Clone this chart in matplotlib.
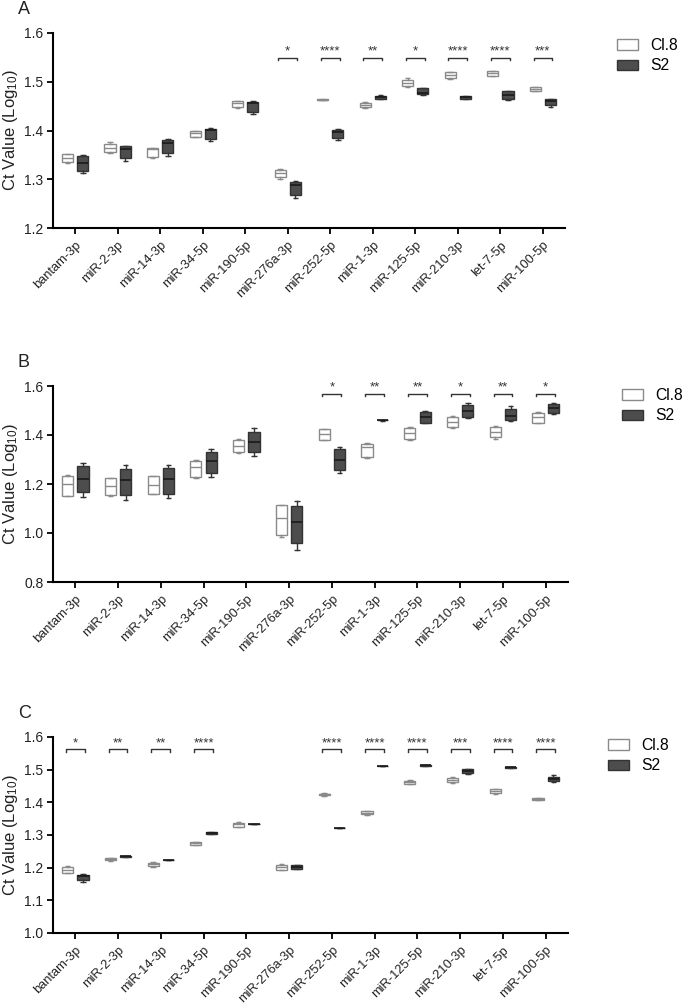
import numpy as np
import matplotlib
matplotlib.use('Agg')
import matplotlib.pyplot as plt
from matplotlib.patches import Patch

plt.rc('font', family='Liberation Sans')
plt.rc('mathtext', default='regular')
plt.rc('axes.spines', right=False, top=False)

mirnas = ['bantam-3p', 'miR-2-3p', 'miR-14-3p', 'miR-34-5p', 'miR-190-5p',
          'miR-276a-3p', 'miR-252-5p', 'miR-1-3p', 'miR-125-5p', 'miR-210-3p',
          'let-7-5p', 'miR-100-5p']

# box stats per miRNA: (whisker low, q1, median, q3, whisker high)
a_cl8 = [(1.333, 1.336, 1.343, 1.351, 1.352), (1.353, 1.356, 1.365, 1.372, 1.377),
         (1.343, 1.346, 1.362, 1.365, 1.365), (1.386, 1.387, 1.394, 1.399, 1.400),
         (1.446, 1.448, 1.456, 1.461, 1.461), (1.301, 1.304, 1.313, 1.319, 1.320),
         (1.462, 1.462, 1.463, 1.464, 1.464), (1.447, 1.448, 1.453, 1.457, 1.458),
         (1.490, 1.492, 1.498, 1.504, 1.507), (1.506, 1.507, 1.513, 1.519, 1.521),
         (1.511, 1.512, 1.517, 1.522, 1.523), (1.481, 1.482, 1.485, 1.489, 1.490)]
a_s2 = [(1.312, 1.317, 1.334, 1.347, 1.349), (1.338, 1.343, 1.363, 1.369, 1.369),
        (1.348, 1.353, 1.375, 1.380, 1.382), (1.378, 1.382, 1.401, 1.404, 1.406),
        (1.433, 1.437, 1.456, 1.459, 1.461), (1.262, 1.267, 1.288, 1.295, 1.296),
        (1.380, 1.384, 1.396, 1.402, 1.404), (1.464, 1.465, 1.468, 1.471, 1.472),
        (1.472, 1.474, 1.476, 1.488, 1.488), (1.464, 1.465, 1.468, 1.471, 1.471),
        (1.463, 1.464, 1.472, 1.481, 1.482), (1.449, 1.452, 1.460, 1.464, 1.465)]
a_sig = ['', '', '', '', '', '*', '****', '**', '*', '****', '****', '***']

b_cl8 = [(1.150, 1.153, 1.201, 1.234, 1.238), (1.152, 1.154, 1.193, 1.224, 1.226),
         (1.158, 1.161, 1.197, 1.231, 1.232), (1.224, 1.228, 1.269, 1.295, 1.299),
         (1.328, 1.330, 1.355, 1.380, 1.384), (0.984, 0.992, 1.062, 1.114, 1.116),
         (1.378, 1.380, 1.404, 1.424, 1.426), (1.305, 1.309, 1.349, 1.363, 1.366),
         (1.380, 1.382, 1.407, 1.427, 1.431), (1.429, 1.431, 1.454, 1.474, 1.476),
         (1.384, 1.391, 1.414, 1.434, 1.436), (1.448, 1.450, 1.472, 1.491, 1.493)]
b_s2 = [(1.147, 1.166, 1.222, 1.272, 1.285), (1.136, 1.157, 1.218, 1.262, 1.278),
        (1.143, 1.159, 1.220, 1.265, 1.276), (1.228, 1.245, 1.295, 1.330, 1.342),
        (1.316, 1.330, 1.370, 1.411, 1.427), (0.932, 0.959, 1.045, 1.110, 1.130),
        (1.245, 1.258, 1.298, 1.342, 1.353), (1.459, 1.460, 1.461, 1.462, 1.463),
        (1.447, 1.451, 1.474, 1.495, 1.499), (1.470, 1.474, 1.499, 1.522, 1.531),
        (1.458, 1.461, 1.478, 1.508, 1.518), (1.485, 1.491, 1.511, 1.526, 1.532)]
b_sig = ['', '', '', '', '', '', '*', '**', '**', '*', '**', '*']

c_cl8 = [(1.183, 1.184, 1.194, 1.201, 1.206), (1.221, 1.222, 1.226, 1.230, 1.231),
         (1.203, 1.204, 1.211, 1.215, 1.218), (1.269, 1.270, 1.274, 1.278, 1.279),
         (1.325, 1.326, 1.333, 1.338, 1.340), (1.193, 1.194, 1.202, 1.209, 1.211),
         (1.420, 1.421, 1.424, 1.427, 1.428), (1.362, 1.363, 1.368, 1.373, 1.374),
         (1.455, 1.456, 1.461, 1.466, 1.467), (1.459, 1.461, 1.468, 1.474, 1.477),
         (1.427, 1.428, 1.435, 1.441, 1.442), (1.406, 1.407, 1.410, 1.413, 1.414)]
c_s2 = [(1.156, 1.161, 1.173, 1.179, 1.180), (1.234, 1.234, 1.235, 1.236, 1.236),
        (1.223, 1.223, 1.224, 1.225, 1.225), (1.302, 1.303, 1.306, 1.309, 1.310),
        (1.333, 1.333, 1.334, 1.335, 1.335), (1.196, 1.197, 1.202, 1.207, 1.208),
        (1.320, 1.320, 1.321, 1.322, 1.322), (1.510, 1.510, 1.511, 1.512, 1.512),
        (1.512, 1.512, 1.513, 1.514, 1.514), (1.488, 1.489, 1.496, 1.501, 1.502),
        (1.506, 1.506, 1.507, 1.508, 1.508), (1.462, 1.464, 1.472, 1.479, 1.483)]
c_sig = ['*', '**', '**', '****', '', '', '****', '****', '****', '***', '****', '****']

cl8_edge = '#8a8a8a'
s2_fill = '#4d4d4d'
s2_edge = '#333333'


def to_stats(rows):
    return [dict(whislo=r[0], q1=r[1], med=r[2], q3=r[3], whishi=r[4], fliers=[]) for r in rows]


def draw_panel(ax, cl8, s2, sig, ylim, yticks, bracket_y, letter, leg_xy):
    x = np.arange(len(mirnas))
    ax.bxp(to_stats(cl8), positions=x - 0.18, widths=0.26, patch_artist=True,
           showfliers=False, manage_ticks=False,
           boxprops=dict(facecolor='white', edgecolor=cl8_edge, lw=1),
           medianprops=dict(color=cl8_edge, lw=1),
           whiskerprops=dict(color=cl8_edge, lw=1),
           capprops=dict(color=cl8_edge, lw=1, solid_capstyle='butt'))
    ax.bxp(to_stats(s2), positions=x + 0.18, widths=0.26, patch_artist=True,
           showfliers=False, manage_ticks=False,
           boxprops=dict(facecolor=s2_fill, edgecolor=s2_edge, lw=1),
           medianprops=dict(color='#1a1a1a', lw=1.2),
           whiskerprops=dict(color=s2_edge, lw=1),
           capprops=dict(color=s2_edge, lw=1, solid_capstyle='butt'))
    leg = 0.012 * (ylim[1] - ylim[0])
    for i, s in enumerate(sig):
        if not s:
            continue
        ax.plot([i - 0.22, i - 0.22, i + 0.22, i + 0.22],
                [bracket_y - leg, bracket_y, bracket_y, bracket_y - leg],
                color='#333333', lw=1, clip_on=False)
        ax.text(i, bracket_y + 0.2 * leg, s, ha='center', va='bottom',
                fontsize=9.5, color='#333333')
    ax.set_xlim(-0.52, len(mirnas) - 0.48)
    ax.set_ylim(*ylim)
    ax.set_yticks(yticks)
    ax.set_yticklabels([f'{v:.1f}' for v in yticks])
    ax.set_xticks(x)
    ax.set_xticklabels(mirnas, rotation=45, ha='right', rotation_mode='anchor')
    ax.tick_params(axis='both', length=4, width=1.3, color='black',
                   labelcolor='#222222', pad=3)
    ax.tick_params(axis='y', labelsize=10)
    ax.tick_params(axis='x', labelsize=9.3, pad=4)
    for sp in ['left', 'bottom']:
        ax.spines[sp].set_linewidth(1.5)
    ax.set_ylabel('Ct Value (Log$_{10}$)', fontsize=12, color='#222222')
    w = ax.get_position().width * 685
    ax.yaxis.set_label_coords(-(53 - 20) / w, 0.5)
    ax.text(-0.068, 1.12, letter, transform=ax.transAxes, fontsize=13,
            ha='left', va='center', color='#222222')
    handles = [Patch(facecolor='white', edgecolor=cl8_edge, lw=1),
               Patch(facecolor=s2_fill, edgecolor=s2_edge, lw=1)]
    ax.legend(handles, ['Cl.8', 'S2'], loc='upper left', bbox_to_anchor=leg_xy,
              bbox_transform=plt.gcf().transFigure, frameon=False, fontsize=11.3,
              handlelength=1.35, handleheight=0.65, borderpad=0, borderaxespad=0,
              handletextpad=0.75, labelspacing=0.35)


fig = plt.figure(figsize=(6.85, 10.07), dpi=100)
ax1 = fig.add_axes([53 / 685, 1 - 228 / 1007, 512 / 685, 195 / 1007])
ax2 = fig.add_axes([53 / 685, 1 - 582 / 1007, 515 / 685, 196 / 1007])
ax3 = fig.add_axes([53 / 685, 1 - 933 / 1007, 515 / 685, 196 / 1007])

draw_panel(ax1, a_cl8, a_s2, a_sig, (1.2, 1.6), [1.2, 1.3, 1.4, 1.5, 1.6], 1.549, 'A',
           (617 / 685, 1 - 38 / 1007))
draw_panel(ax2, b_cl8, b_s2, b_sig, (0.8, 1.6), [0.8, 1.0, 1.2, 1.4, 1.6], 1.569, 'B',
           (622 / 685, 1 - 388 / 1007))
draw_panel(ax3, c_cl8, c_s2, c_sig, (1.0, 1.6), [1.0, 1.1, 1.2, 1.3, 1.4, 1.5, 1.6], 1.562, 'C',
           (608 / 685, 1 - 738 / 1007))

fig.savefig('out.png', dpi=100)
